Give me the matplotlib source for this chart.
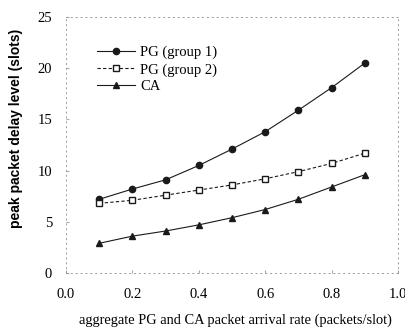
import matplotlib
matplotlib.use("Agg")
import matplotlib.pyplot as plt

x = [0.1, 0.2, 0.3, 0.4, 0.5, 0.6, 0.7, 0.8, 0.9]
pg1 = [7.2, 8.2, 9.1, 10.5, 12.1, 13.8, 15.9, 18.1, 20.5]
pg2 = [6.8, 7.1, 7.6, 8.1, 8.6, 9.2, 9.9, 10.7, 11.7]
ca = [2.9, 3.6, 4.1, 4.7, 5.4, 6.2, 7.2, 8.4, 9.6]
xticks = [0.0, 0.2, 0.4, 0.6, 0.8, 1.0]
yticks = [0, 5, 10, 15, 20, 25]

serif = ["Liberation Serif", "DejaVu Serif"]
fig = plt.figure(figsize=(4.06, 3.35), dpi=100)
ax = fig.add_axes([66 / 406, 1 - 273 / 335, 332 / 406, 256 / 335])
c = "#1a1a1a"
ax.plot(x, pg1, "-", color=c, lw=0.8, marker="o", ms=4.5, mfc=c, mec=c, label="PG (group 1)")
ax.plot(x, pg2, "--", color=c, lw=0.8, dashes=(3, 2), marker="s", ms=4.5, mfc="white", mec=c, label="PG (group 2)")
ax.plot(x, ca, "-", color=c, lw=0.8, marker="^", ms=4.5, mfc=c, mec=c, label="CA")
ax.set_xlim(0, 1)
ax.set_ylim(0, 25)
ax.set_xticks(xticks)
ax.set_yticks(yticks)
ax.set_xticklabels([f"{v:.1f}" for v in xticks], family=serif, fontsize=10.5)
ax.set_yticklabels([str(v) for v in yticks], family=serif, fontsize=10.5)
ax.tick_params(direction="in", length=2, color="#aaaaaa")
ax.tick_params(axis="x", pad=11)
ax.tick_params(axis="y", pad=10)
for s in ax.spines.values():
    s.set_linestyle((0, (1, 4)))
    s.set_color("#999999")
    s.set_linewidth(0.7)
ax.set_xlabel("aggregate PG and CA packet arrival rate (packets/slot)", family=serif, fontsize=10.4)
ax.xaxis.set_label_coords(0.51, -0.16)
fig.text(16 / 406, 1 - 128 / 335, "peak packet delay level (slots)", rotation=90, ha="center", va="center",
         family=["Liberation Sans", "DejaVu Sans"], fontsize=10, fontweight="bold")
leg = ax.legend(loc="upper left", bbox_to_anchor=((97 - 66) / 332, (273 - 46) / 256), frameon=False,
                prop={"family": serif, "size": 10.5},
                handlelength=2.6, handletextpad=0.35, labelspacing=0.25, borderaxespad=0, borderpad=0)
fig.savefig("out.png", dpi=100)
